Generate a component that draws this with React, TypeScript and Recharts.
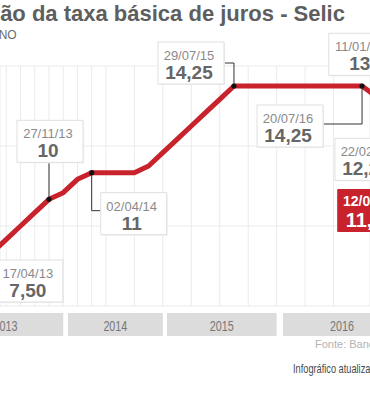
import React from "react";
import {
  ComposedChart,
  Line,
  XAxis,
  YAxis,
  CartesianGrid,
  ReferenceDot,
  ReferenceArea,
} from "recharts";

// Copom meetings in order; the graphic spaces every meeting evenly
const STEPS = [
  0, 1, 2, 3, 4, 5, 6, 7, 8, 9, 10, 11, 12, 13, 14, 15, 16, 17, 18, 19, 20,
  21, 22, 23, 24, 25, 26, 27, 28, 29, 30, 31, 32,
];
const SELIC = [
  7.5, 8, 8.5, 9, 9.5, 10, 10.25, 10.75, 11, 11, 11, 11, 11.25, 11.75, 12.25,
  12.75, 13.25, 13.75, 14.25, 14.25, 14.25, 14.25, 14.25, 14.25, 14.25, 14.25,
  14.25, 14.25, 13.85, 13.75, 13, 12.25, 11.25,
];

// year strips under the chart (in meeting steps)
const YEARS = ["2013", "2014", "2015", "2016"];
const YEAR_FROM = [-2.1, 6.33, 13.29, 21.45];
const YEAR_TO = [6.0, 13.0, 21.0, 29.74];

// labelled points
const CALLOUT_STEPS = [0, 5, 8, 18, 27, 30, 31, 32];
const CALLOUT_DATES = [
  "17/04/13",
  "27/11/13",
  "02/04/14",
  "29/07/15",
  "20/07/16",
  "11/01/17",
  "22/02/17",
  "12/04/17",
];
const CALLOUT_VALUES = ["7,50", "10", "11", "14,25", "14,25", "13", "12,25", "11,25"];

const data = STEPS.map((step, i) => ({ step, selic: SELIC[i] }));

const RED = "#c8232d";
const SANS = "'Liberation Sans', Arial, sans-serif";

// box placement relative to its point (px), and leader path
const LAYOUT: Record<
  string,
  { dx: number; dy: number; leader?: [number, number][]; red?: boolean }
> = {
  "17/04/13": { dx: 19, dy: -6 },
  "27/11/13": { dx: -32, dy: -79, leader: [[0, -37], [0, 0]] },
  "02/04/14": { dx: 9, dy: 20, leader: [[0, 0], [0, 38], [9, 38]] },
  "29/07/15": { dx: -76, dy: -44, leader: [[-10, -23], [0, -23], [0, 0]] },
  "20/07/16": { dx: -105, dy: 19, leader: [[-39, 38], [0, 38], [0, 0]] },
  "11/01/17": { dx: -76, dy: -86 },
  "22/02/17": { dx: -84, dy: -1 },
  "12/04/17": { dx: -96, dy: 23, red: true },
};

const BOX_W = 66;

function Callout(props: any) {
  const { cx, cy, date, value } = props;
  const lay = LAYOUT[date];
  const left = cx + lay.dx;
  const top = cy + lay.dy;
  const mid = left + 31;
  return (
    <g>
      {lay.leader && (
        <polyline
          points={lay.leader.map(([x, y]) => `${cx + x},${cy + y}`).join(" ")}
          fill="none"
          stroke="#333"
          strokeWidth={1}
        />
      )}
      <circle cx={cx} cy={cy} r={2.6} fill="#111" />
      {lay.red ? (
        <g>
          <rect x={left} y={top} width={BOX_W} height={43} fill={RED} rx={1} />
          <text x={mid + 2} y={top + 17} textAnchor="middle" fontFamily={SANS} fontSize={14} fontWeight="bold" fill="#fff">
            {date}
          </text>
          <text x={mid + 2} y={top + 38} textAnchor="middle" fontFamily={SANS} fontSize={20} fontWeight="bold" fill="#fff">
            {value}
          </text>
        </g>
      ) : (
        <g>
          <rect x={left + 1} y={top + 1} width={BOX_W} height={42} fill="#efefef" />
          <rect x={left} y={top} width={BOX_W} height={42} fill="#fff" stroke="#e0e0e0" strokeWidth={1} />
          <text x={mid} y={top + 18} textAnchor="middle" fontFamily={SANS} fontSize={13} fill="#8a8a8a">
            {date}
          </text>
          <text x={mid} y={top + 37} textAnchor="middle" fontFamily={SANS} fontSize={19} fontWeight="bold" fill="#666">
            {value}
          </text>
        </g>
      )}
    </g>
  );
}

function YearStrip(props: any) {
  const { x, y, width, height, year } = props;
  const top = y + height + 7;
  return (
    <g>
      <rect x={x} y={top} width={width} height={23} fill="#dcdcdc" />
      <text
        transform={`translate(${x + width / 2},${top + 18}) scale(0.72,1)`}
        textAnchor="middle"
        fontFamily={SANS}
        fontSize={15}
        fill="#777"
      >
        {year}
      </text>
    </g>
  );
}

export default function App() {
  return (
    <div
      style={{
        position: "absolute",
        left: 0,
        top: 0,
        width: 370,
        height: 400,
        overflow: "hidden",
        background: "#fff",
      }}
    >
      <ComposedChart
        width={370}
        height={400}
        data={data}
        margin={{ top: 66, right: 0, bottom: 94, left: 0 }}
      >
        <CartesianGrid stroke="#ebebeb" strokeWidth={1} />
        <XAxis
          type="number"
          dataKey="step"
          domain={[1.557, 27.56]}
          allowDataOverflow
          ticks={STEPS}
          hide
        />
        <YAxis type="number" domain={[6, 15]} ticks={[6, 9, 12, 15]} allowDataOverflow hide />
        {YEARS.map((year, i) => (
          <ReferenceArea
            key={year}
            x1={YEAR_FROM[i]}
            x2={YEAR_TO[i]}
            ifOverflow="visible"
            shape={(p: any) => <YearStrip {...p} year={year} />}
          />
        ))}
        <Line
          type="linear"
          dataKey="selic"
          stroke={RED}
          strokeWidth={5}
          strokeLinejoin="round"
          dot={false}
          activeDot={false}
          isAnimationActive={false}
        />
        {CALLOUT_STEPS.map((step, i) => (
          <ReferenceDot
            key={CALLOUT_DATES[i]}
            x={step}
            y={SELIC[step]}
            ifOverflow="visible"
            shape={(p: any) => (
              <Callout {...p} date={CALLOUT_DATES[i]} value={CALLOUT_VALUES[i]} />
            )}
          />
        ))}
      </ComposedChart>

      {/* title, subtitle and footer, cropped like the source */}
      <svg
        width={370}
        height={400}
        style={{ position: "absolute", left: 0, top: 0, pointerEvents: "none" }}
      >
        <text x={-72} y={21} fontFamily={SANS} fontSize={22} fontWeight="bold" fill="#5e5e5e">
          Evolução da taxa básica de juros - Selic
        </text>
        <text x={-64} y={39} fontFamily={SANS} fontSize={12} fill="#6b6b6b">
          EM % AO ANO
        </text>
        <text x={315} y={348} fontFamily={SANS} fontSize={11} fill="#b3b3b3">
          Fonte: Banco Central
        </text>
        <text
          transform="translate(293,373) scale(0.77,1)"
          fontFamily={SANS}
          fontSize={12}
          fill="#4a4a4a"
        >
          Infográfico atualizado em 12/04/2017
        </text>
      </svg>
    </div>
  );
}
